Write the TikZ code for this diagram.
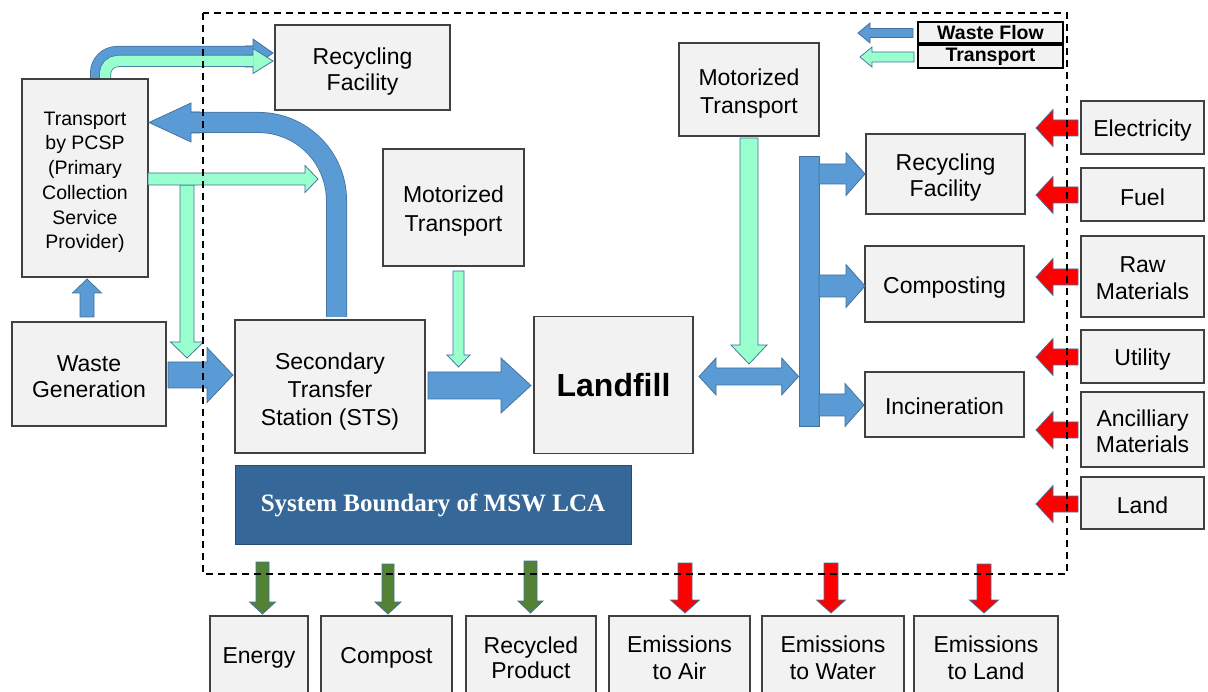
\documentclass[tikz,border=0pt]{standalone}
\usepackage{fontspec}
\setmainfont{Liberation Sans}
\newfontfamily\titlefont{Liberation Serif}
\usetikzlibrary{calc}

\definecolor{flowblue}{RGB}{91,155,213}
\definecolor{arrowedge}{RGB}{65,113,156}
\definecolor{mintfill}{RGB}{153,255,204}
\definecolor{inred}{RGB}{255,0,0}
\definecolor{outgreen}{RGB}{84,130,53}
\definecolor{boxfill}{RGB}{242,242,242}
\definecolor{boxline}{RGB}{64,64,64}
\definecolor{titlefill}{RGB}{53,104,152}
\definecolor{titleline}{RGB}{37,77,115}

% invisible strut that makes the first line of a label taller, lowering the label in its box
\newcommand\lowline[1][25pt]{\rule{0pt}{#1}}

\tikzset{
  procbox/.style={draw=boxline, fill=boxfill, line width=1.6pt, inner sep=0pt, outer sep=0pt,
    align=center, font={\fontsize{23}{26.5}\selectfont}},
  textdrop/.style={execute at begin node={\rule{0pt}{#1}}},
  textdrop/.default=23pt,
  legendbox/.style={procbox, draw=black, font={\bfseries\fontsize{19.5}{22}\selectfont}},
  flowarr/.style={fill=flowblue, draw=arrowedge, line width=0.75pt},
  mintarr/.style={fill=mintfill, draw=arrowedge, line width=0.75pt},
  redarr/.style={fill=inred, draw=arrowedge, line width=0.75pt},
  greenarr/.style={fill=outgreen, draw=arrowedge, line width=0.75pt},
  flowtube/.style={draw=arrowedge, line width=0.75pt, double=flowblue},
  minttube/.style={draw=arrowedge, line width=0.75pt, double=mintfill},
  boundary/.style={draw=black, line width=2pt, dash pattern=on 7pt off 5pt},
}

% block arrow: #1 style, #2 tail, #3 tip, #4 half shaft, #5 half head, #6 head length
\newcommand\blockarrow[6]{%
  \path[#1] let \p1=#2, \p2=#3,
    \n1={atan2(\y2-\y1,\x2-\x1)},
    \n2={veclen(\x2-\x1,\y2-\y1)-#6} in
    ($(\p1)+(\n1+90:#4)$) -- ($(\p1)+(\n1:\n2)+(\n1+90:#4)$)
    -- ($(\p1)+(\n1:\n2)+(\n1+90:#5)$) -- (\p2)
    -- ($(\p1)+(\n1:\n2)+(\n1-90:#5)$) -- ($(\p1)+(\n1:\n2)+(\n1-90:#4)$)
    -- ($(\p1)+(\n1-90:#4)$) -- cycle;}

% double-headed block arrow, same arguments
\newcommand\dblockarrow[6]{%
  \path[#1] let \p1=#2, \p2=#3,
    \n1={atan2(\y2-\y1,\x2-\x1)},
    \n2={veclen(\x2-\x1,\y2-\y1)-#6} in
    (\p1) -- ($(\p1)+(\n1:#6)+(\n1+90:#5)$) -- ($(\p1)+(\n1:#6)+(\n1+90:#4)$)
    -- ($(\p1)+(\n1:\n2)+(\n1+90:#4)$) -- ($(\p1)+(\n1:\n2)+(\n1+90:#5)$) -- (\p2)
    -- ($(\p1)+(\n1:\n2)+(\n1-90:#5)$) -- ($(\p1)+(\n1:\n2)+(\n1-90:#4)$)
    -- ($(\p1)+(\n1:#6)+(\n1-90:#4)$) -- ($(\p1)+(\n1:#6)+(\n1-90:#5)$) -- cycle;}

\begin{document}
\begin{tikzpicture}[x=1pt, y=-1pt]
\useasboundingbox (0,0) rectangle (1208,692);
\clip (0,0) rectangle (1208,692);
\fill[white] (0,0) rectangle (1208,692);

% ---------- process boxes ----------
\node[procbox, minimum width=175pt, minimum height=85pt] (rf1) at (362.5,67.5) {\lowline Recycling\\Facility};
\node[procbox, minimum width=126pt, minimum height=198pt, font={\fontsize{19.5}{24.7}\selectfont}] (pcsp) at (85,178)
  {\lowline[22pt]Transport\\by PCSP\\(Primary\\Collection\\Service\\Provider)};
\node[procbox, minimum width=154pt, minimum height=104pt] (wg) at (89,374) {\lowline[21pt]Waste\\Generation};
\node[procbox, minimum width=190pt, minimum height=133pt, font={\fontsize{23}{28}\selectfont}] (sts) at (330,386.5)
  {\lowline[27pt]Secondary\\Transfer\\Station (STS)};
\node[procbox, minimum width=141pt, minimum height=117pt, font={\fontsize{23}{28.5}\selectfont}] (mt1) at (453.5,207.5) {\lowline[24pt]Motorized\\Transport};
\node[procbox, minimum width=140pt, minimum height=93pt, font={\fontsize{23}{28}\selectfont}] (mt2) at (749,89.5) {\lowline[24pt]Motorized\\Transport};
\node[procbox, minimum width=159pt, minimum height=137pt, font={\bfseries\fontsize{32}{36}\selectfont}] (lf) at (613.5,385) {Landfill};

\node[procbox, minimum width=159pt, minimum height=80pt] (rf2) at (945.5,174) {\lowline[24pt]Recycling\\Facility};
\node[procbox, textdrop, minimum width=159pt, minimum height=76pt] (comp) at (944.5,284) {Composting};
\node[procbox, textdrop=20pt, minimum width=159pt, minimum height=65pt] (inc) at (944.5,404.5) {Incineration};

\node[procbox, textdrop, minimum width=123pt, minimum height=53pt] (elec) at (1142.5,127.5) {Electricity};
\node[procbox, textdrop, minimum width=123pt, minimum height=53pt] (fuel) at (1142.5,194.5) {Fuel};
\node[procbox, minimum width=123pt, minimum height=81pt] (raw) at (1142.5,276.5) {\lowline[19pt]Raw\\Materials};
\node[procbox, textdrop, minimum width=123pt, minimum height=53pt] (util) at (1142.5,356.5) {Utility};
\node[procbox, minimum width=123pt, minimum height=75pt, font={\fontsize{23}{25.5}\selectfont}] (anc) at (1142.5,429.5) {\lowline[20pt]Ancilliary\\Materials};
\node[procbox, textdrop=21pt, minimum width=123pt, minimum height=52pt] (land) at (1142.5,503) {Land};

\node[procbox, minimum width=98pt, minimum height=84pt] (energy) at (259,658) {Energy};
\node[procbox, minimum width=131pt, minimum height=84pt] (compost) at (386.5,658) {Compost};
\node[procbox, minimum width=130pt, minimum height=84pt, font={\fontsize{23}{25.5}\selectfont}] (recyc) at (531,658) {Recycled\\Product};
\node[procbox, minimum width=141pt, minimum height=84pt] (air) at (679.5,658) {Emissions\\to Air};
\node[procbox, minimum width=142pt, minimum height=84pt] (water) at (833,658) {Emissions\\to Water};
\node[procbox, minimum width=144pt, minimum height=84pt] (eland) at (986,658) {Emissions\\to Land};

\node[fill=titlefill, draw=titleline, line width=1pt, minimum width=396pt, minimum height=78pt, inner sep=0pt,
  text=white, font={\titlefont\bfseries\fontsize{25}{28}\selectfont}] (sb) at (433,505) {System Boundary of MSW LCA};

% legend
\node[legendbox, minimum width=145pt, minimum height=21pt] (wf) at (990.5,32.5) {Waste Flow};
\node[legendbox, minimum width=145pt, minimum height=23pt] (tr) at (990.5,56.5) {Transport};
\blockarrow{flowarr}{($(wf.west)+(-5,0.5)$)}{($(wf.west)+(-60,0.5)$)}{4.5pt}{10pt}{12pt}
\blockarrow{mintarr}{($(tr.west)+(-4,0.5)$)}{($(tr.west)+(-58,0.5)$)}{5pt}{10pt}{12pt}

% ---------- collection stage ----------
\blockarrow{flowarr}{($(wg.north)+(-2,-5)$)}{($(pcsp.south)+(2,2)$)}{7pt}{14.5pt}{14pt}
\blockarrow{flowarr}{($(wg.east)+(2,1)$)}{($(sts.west)+(-2,-11.5)$)}{13pt}{27.5pt}{26pt}
\blockarrow{mintarr}{($(pcsp.east)+(39,7)$)}{($(wg.east)+(21,-16)$)}{7pt}{16.5pt}{16pt}
\blockarrow{mintarr}{($(pcsp.east)+(0,1)$)}{($(pcsp.east)+(170,1)$)}{6pt}{13.5pt}{13pt}

% PCSP to recycling facility (waste and transport)
\blockarrow{flowarr}{($(rf1.west)+(-30,-14.5)$)}{($(rf1.west)+(-2,-14.5)$)}{7pt}{14pt}{20pt}
\draw[flowtube, double distance=12.5pt, rounded corners=20pt] ($(pcsp.north)+(12,-1)$) |- ($(rf1.west)+(-22,-14.5)$);
\blockarrow{mintarr}{($(rf1.west)+(-30,-6.5)$)}{($(rf1.west)+(-2,-6.5)$)}{6pt}{12.5pt}{20pt}
\draw[minttube, double distance=10.5pt, rounded corners=13pt] ($(pcsp.north)+(20,-1)$) |- ($(rf1.west)+(-22,-6.5)$);

% STS back to PCSP
\blockarrow{flowarr}{($(pcsp.east)+(52,-55.5)$)}{($(pcsp.east)+(1,-55.5)$)}{10.5pt}{19.5pt}{42pt}
\draw[flowtube, double distance=19.5pt, rounded corners=78pt] ($(sts.north)+(6.5,-3)$) |- ($(pcsp.east)+(43,-55.5)$);

% ---------- transfer and disposal ----------
\blockarrow{flowarr}{($(sts.east)+(3,-1)$)}{($(lf.west)+(-3,0.5)$)}{13.5pt}{27.5pt}{30pt}
\blockarrow{mintarr}{($(mt1.south)+(5,5)$)}{($(mt1.south)+(5,101)$)}{5.5pt}{11.5pt}{12pt}
\blockarrow{mintarr}{($(mt2.south)+(0,2)$)}{($(mt2.south)+(0,228)$)}{9pt}{18pt}{19pt}

\node[flowarr, minimum width=20pt, minimum height=270pt, inner sep=0pt] (bus) at (809,291) {};
\coordinate (lfjoin) at ($(lf.east)+(6,-8.5)$);
\dblockarrow{flowarr}{(lfjoin)}{(bus.west |- lfjoin)}{8.5pt}{18.5pt}{17pt}
\blockarrow{flowarr}{($(rf2.west)+(-47,0)$)}{($(rf2.west)+(-1,0)$)}{10pt}{21.5pt}{19pt}
\blockarrow{flowarr}{($(comp.west)+(-46,2)$)}{($(comp.west)+(0,2)$)}{11pt}{21.5pt}{19pt}
\blockarrow{flowarr}{($(inc.west)+(-46,0.5)$)}{($(inc.west)+(-1,0.5)$)}{11pt}{21.5pt}{19pt}

% ---------- inputs ----------
\blockarrow{redarr}{($(elec.west)+(-3,0.5)$)}{($(elec.west)+(-45,0.5)$)}{8pt}{18.5pt}{17pt}
\blockarrow{redarr}{($(fuel.west)+(-3,0.5)$)}{($(fuel.west)+(-45,0.5)$)}{8pt}{18.5pt}{17pt}
\blockarrow{redarr}{($(raw.west)+(-3,0.5)$)}{($(raw.west)+(-45,0.5)$)}{8pt}{18.5pt}{17pt}
\blockarrow{redarr}{($(util.west)+(-3,0.5)$)}{($(util.west)+(-45,0.5)$)}{8pt}{18.5pt}{17pt}
\blockarrow{redarr}{($(anc.west)+(-3,0.5)$)}{($(anc.west)+(-45,0.5)$)}{8pt}{18.5pt}{17pt}
\blockarrow{redarr}{($(land.west)+(-3,1)$)}{($(land.west)+(-45,1)$)}{8pt}{18.5pt}{17pt}

% ---------- outputs ----------
\blockarrow{greenarr}{($(energy.north)+(3.5,-54)$)}{($(energy.north)+(3.5,-2)$)}{6.5pt}{13pt}{12pt}
\blockarrow{greenarr}{($(compost.north)+(1.5,-52)$)}{($(compost.north)+(1.5,-2)$)}{6pt}{13pt}{12pt}
\blockarrow{greenarr}{($(recyc.north)+(-0.5,-55)$)}{($(recyc.north)+(-0.5,-3)$)}{6.5pt}{12.5pt}{12pt}
\blockarrow{redarr}{($(air.north)+(5.5,-53)$)}{($(air.north)+(5.5,-3)$)}{7pt}{14.5pt}{13pt}
\blockarrow{redarr}{($(water.north)+(-2,-53)$)}{($(water.north)+(-2,-3)$)}{7pt}{14.5pt}{13pt}
\blockarrow{redarr}{($(eland.north)+(-2,-52)$)}{($(eland.north)+(-2,-3)$)}{7pt}{14.5pt}{13pt}

% system boundary
\draw[boundary] (203,13) rectangle (1067,574);
\end{tikzpicture}
\end{document}
